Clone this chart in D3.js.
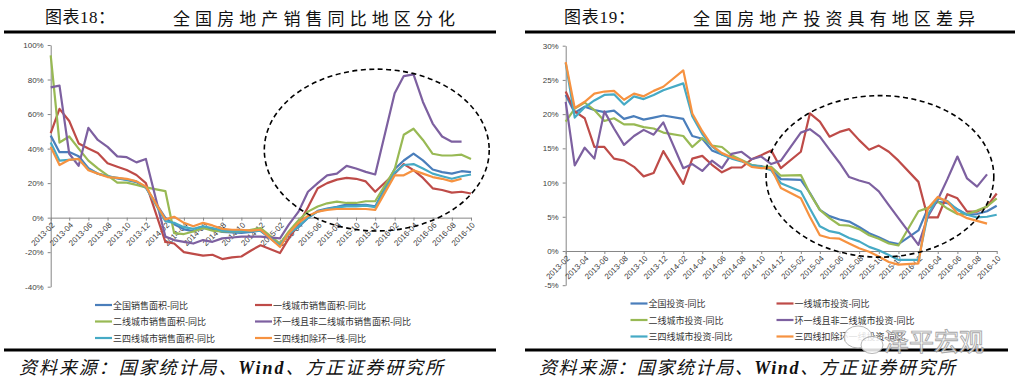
<!DOCTYPE html>
<html>
<head>
<meta charset="utf-8">
<script src="https://cdn.jsdelivr.net/npm/d3@7"></script>
<style>
  body { margin: 0; background: #fff; }
  svg { display: block; }
</style>
</head>
<body>
<div id="chart"></div>
<script>
// months with data (January is folded into February in the source, so it is missing)
const months = [
  "2013-02","2013-03","2013-04","2013-05","2013-06","2013-07","2013-08","2013-09","2013-10","2013-11","2013-12",
  "2014-02","2014-03","2014-04","2014-05","2014-06","2014-07","2014-08","2014-09","2014-10","2014-11","2014-12",
  "2015-02","2015-03","2015-04","2015-05","2015-06","2015-07","2015-08","2015-09","2015-10","2015-11","2015-12",
  "2016-02","2016-03","2016-04","2016-05","2016-06","2016-07","2016-08","2016-09","2016-10"
]
const tickLabels = [
  "2013-02","2013-04","2013-06","2013-08","2013-10","2013-12","2014-02","2014-04","2014-06","2014-08","2014-10","2014-12",
  "2015-02","2015-04","2015-06","2015-08","2015-10","2015-12","2016-02","2016-04","2016-06","2016-08","2016-10"
]

// 图表18 sales area yoy (%)
const salesNames = ["全国销售面积-同比","一线城市销售面积-同比","二线城市销售面积-同比","环一线且非二线城市销售面积-同比","三四线城市销售面积-同比","三四线扣除环一线-同比"]
const salesNational = [47.5,37.9,38.0,35.6,28.7,25.4,24.1,22.7,21.8,20.6,17.3, -0.1,-3.8,-6.8,-7.8,-6.0,-6.7,-8.3,-8.6,-8.9,-8.2,-7.6, -16.3,-9.2,-5.4,-0.2,3.9,5.2,6.2,7.5,7.2,7.4,6.5, 28.2,33.1,37.1,33.2,27.9,26.4,25.5,26.9,26.4]
const salesTier1    = [49,63,56,43,40,37.5,31.5,29.5,27.6,24.7,20, -14,-15,-20,-21,-22,-21.5,-24,-23,-22.5,-19,-16, -20.5,-12,-4,6,17,20,22,23,22.5,21,15, 25.5,31,27.5,23,17,16,14.5,15,14]
const salesTier2    = [94,43.5,47,40,33,28.5,24.5,20.3,20.3,19,17.5, 15.4,-9,-9.5,-8,-6,-7.5,-8,-8,-8,-7,-6, -15,-8,-1.5,3.5,6.5,8.3,9.3,8.5,8.5,9.5,9.5, 28,48,51.5,45,37,36,36,36.5,34]
const salesRing     = [75.5,76.5,37,30,52,45,41,35.5,35,32,34, -11,-13,-14,-15,-13,-14,-12,-11.5,-11,-11,-11, -12,-4,3.5,15,20,24.5,25.5,30,28.5,26.5,25, 72,82,83,67,54.5,47,44,44,null]
const salesTier34   = [43.5,33,33.5,34,28,25.5,24,23,22,21,17.5, -2,-3,-5.5,-6.5,-5,-6,-7.5,-8,-8,-8,-7.5, -16,-9.5,-5,0,3.5,5,6,6.5,6.5,7,6, 26,30.5,31,28.5,25.5,24,22.5,24,25]
const salesTier34ex = [41,30.5,33.5,34,27.5,25.5,23.5,23,22.5,21,18, -1,0.5,-3,-5,-3,-4.5,-6.5,-7,-7,-7.5,-7, -17,-9,-3,1,3.5,4.5,5,5,5,5,4.5, 24.5,24.5,27.5,25.5,23.5,22.5,21,22.5,null]
const salesTicks = [-40,-20,0,20,40,60,80,100]

// 图表19 investment yoy (%)
const invNames = ["全国投资-同比","一线城市投资-同比","二线城市投资-同比","环一线且非二线城市投资-同比","三四线城市投资-同比","三四线扣除环一线投资-同比"]
const invNational = [22.8,20.2,21.1,20.6,20.3,20.5,19.3,19.7,19.2,19.5,19.8, 19.3,16.8,16.4,14.7,14.1,13.7,13.2,12.5,12.4,11.9,10.5, 10.4,8.5,6.0,5.1,4.6,4.3,3.5,2.6,2.0,1.3,1.0, 3.0,6.2,7.2,7.0,6.1,5.3,5.4,5.8,6.6]
const invTier1    = [23.3,20.4,19.4,15.2,15.2,13.5,13.2,12.3,10.9,11.4,14.6, 9.8,13.5,13.9,12.6,11.5,12.2,12.2,13.4,14.0,14.7,12.1, 14.5,20.1,18.9,16.7,17.4,17.8,16.2,14.8,15.4,14.5,13.2, 10.1,4.9,4.9,8.3,7.7,5.75,5.75,6.5,8.4]
const invTier2    = [18.9,20.8,21.7,20.6,19.0,19.4,18.5,18.5,18.1,17.9,17.3, 16.8,15.2,16.5,15.4,15.2,14.0,13.3,12.6,12.3,12.3,11.0, 11.1,8.4,6.0,4.8,3.8,3.7,3.2,2.3,1.8,1.1,0.8, 5.8,6.3,7.2,6.2,5.4,5.4,5.9,6.5,7.7]
const invRing     = [21.8,12.5,15.1,13.5,20.4,17.9,15.5,16.8,17.7,17.0,18.8, 12.1,12.7,11.7,13.2,12.1,14.2,14.5,13.4,13.8,12.7,13.2, 17.3,17.8,16.7,14.8,12.9,10.8,10.3,9.9,8.7,6.7,4.8, 0.9,5.0,7.5,10.5,13.8,10.6,9.4,11.2,null]
const invTier34   = [27.5,19.5,21.0,22.0,22.8,22.9,21.4,22.6,22.2,22.8,23.5, 24.5,19.7,17.1,15.3,14.1,13.5,13.1,12.5,12.3,11.8,9.9, 8.7,6.2,3.6,2.9,2.6,1.9,1.4,0.6,0.1,-0.6,-1.3, -1.3,5.3,7.7,7.3,6.0,5.3,4.9,5.0,5.3]
const invTier34ex = [27.6,20.9,21.8,23.0,23.3,23.4,22.1,23.0,22.6,23.4,24.0, 26.4,20.1,17.5,15.4,14.3,13.7,13.2,12.3,12.1,12.1,9.2, 7.7,5.0,2.3,1.9,1.8,1.1,0.4,-0.1,-0.8,-1.6,-2.0, -1.8,6.2,7.9,7.2,5.5,4.8,4.4,4.0,null]
const invTicks = [-5,0,5,10,15,20,25,30]

const colors = ["#4A7EBB","#BE4B48","#98B954","#7D60A0","#46AAC5","#F69240"]

const W = 1017, H = 384
const parse = d3.utcParse("%Y-%m")
const fmtMonth = d3.utcFormat("%Y-%m")

const svg = d3.select("#chart").append("svg")
  .attr("width", W).attr("height", H)
  .attr("viewBox", `0 0 ${W} ${H}`)
svg.append("rect").attr("width", W).attr("height", H).attr("fill", "#fff")

const panels = [
  {
    label: "图表18：", title: "全国房地产销售同比地区分化",
    labelX: 45, labelW: 70, titleX: 173, titleW: 282,
    ruleTop: [4, 496], ruleBottom: [4, 496], sourceX: 19, sourceW: 424,
    xRange: [50.7, 471], yDomain: [-40, 100], yRange: [286.7, 45], yTicks: salesTicks,
    names: salesNames,
    values: [salesNational, salesTier1, salesTier2, salesRing, salesTier34, salesTier34ex],
    legendX: [95, 255], legendY: [305, 321.5, 338],
    ellipse: {from: "2014-12-13", to: "2016-11-28", top: 86, bottom: -7.7}
  },
  {
    label: "图表19：", title: "全国房地产投资具有地区差异",
    labelX: 564, labelW: 71, titleX: 693, titleW: 282,
    ruleTop: [525, 1015], ruleBottom: [525, 1008], sourceX: 539, sourceW: 416,
    xRange: [565.7, 996.7], yDomain: [-5, 30], yRange: [285.2, 45.7], yTicks: invTicks,
    names: invNames,
    values: [invNational, invTier1, invTier2, invRing, invTier34, invTier34ex],
    legendX: [630.5, 776.5], legendY: [303.5, 320, 336.5],
    ellipse: {from: "2014-10-16", to: "2016-09-22", top: 22.7, bottom: -0.9},
    watermark: true
  }
]

const cjk = "'Noto Sans CJK SC', sans-serif"

panels.forEach(p => {
  const g = svg.append("g")

  // header
  g.append("text").attr("x", p.labelX).attr("y", 17)
    .attr("dominant-baseline", "central")
    .attr("textLength", p.labelW).attr("lengthAdjust", "spacing")
    .style("font-family", "'Liberation Serif', " + cjk).style("font-size", "17px").attr("fill", "#111")
    .text(p.label)
  g.append("text").attr("x", p.titleX).attr("y", 17)
    .attr("dominant-baseline", "central")
    .attr("textLength", p.titleW).attr("lengthAdjust", "spacing")
    .style("font-family", cjk).style("font-size", "17px").attr("fill", "#111")
    .text(p.title)
  g.append("line").attr("x1", p.ruleTop[0]).attr("x2", p.ruleTop[1]).attr("y1", 32).attr("y2", 32)
    .attr("stroke", "#000").attr("stroke-width", 3)
  g.append("line").attr("x1", p.ruleBottom[0]).attr("x2", p.ruleBottom[1]).attr("y1", 350).attr("y2", 350)
    .attr("stroke", "#000").attr("stroke-width", 3)
  g.append("text").attr("x", p.sourceX).attr("y", 368)
    .attr("dominant-baseline", "central")
    .attr("textLength", p.sourceW).attr("lengthAdjust", "spacing")
    .style("font-family", "'Liberation Serif', " + cjk).style("font-size", "18px").style("font-style", "italic")
    .attr("fill", "#111")
    .html("资料来源：国家统计局、<tspan font-weight='bold'>Wind</tspan>、方正证券研究所")

  // scales
  const x = d3.scaleUtc().domain([parse(months[0]), parse(months[months.length - 1])]).range(p.xRange)
  const y = d3.scaleLinear().domain(p.yDomain).range(p.yRange)

  // y axis
  const ya = g.append("g").attr("transform", `translate(${p.xRange[0]},0)`)
    .call(d3.axisLeft(y).tickValues(p.yTicks).tickFormat(d => d + "%").tickSize(3).tickSizeOuter(0))
  ya.select(".domain").attr("stroke", "#868686")
  ya.selectAll(".tick line").attr("stroke", "#868686")
  ya.selectAll("text").attr("x", -7).attr("fill", "#404040")
    .style("font-family", "'Liberation Sans', Arial, sans-serif").style("font-size", "8px")

  // x axis at 0%
  const xa = g.append("g").attr("transform", `translate(0,${y(0)})`)
    .call(d3.axisBottom(x).tickValues(tickLabels.map(parse)).tickFormat(fmtMonth).tickSize(3).tickSizeOuter(0))
  xa.select(".domain").attr("stroke", "#868686")
  xa.selectAll(".tick line").attr("stroke", "#868686")
  xa.selectAll("text")
    .attr("x", 0).attr("y", 0).attr("dy", "0.35em")
    .attr("text-anchor", "end")
    .attr("transform", "translate(2,6) rotate(-45)")
    .attr("fill", "#404040")
    .style("font-family", "'Liberation Sans', Arial, sans-serif").style("font-size", "8px")

  // lines
  const line = d3.line()
    .defined(d => d.v !== null)
    .x(d => x(parse(d.m)))
    .y(d => y(d.v))
  p.values.forEach((vals, k) => {
    g.append("path")
      .datum(months.map((m, i) => ({m: m, v: vals[i]})))
      .attr("fill", "none")
      .attr("stroke", colors[k])
      .attr("stroke-width", 2.2)
      .attr("stroke-linejoin", "round")
      .attr("d", line)
  })

  // dashed ellipse
  const e = p.ellipse
  const ex0 = x(d3.utcParse("%Y-%m-%d")(e.from)), ex1 = x(d3.utcParse("%Y-%m-%d")(e.to))
  g.append("ellipse")
    .attr("cx", (ex0 + ex1) / 2).attr("cy", (y(e.top) + y(e.bottom)) / 2)
    .attr("rx", (ex1 - ex0) / 2).attr("ry", (y(e.bottom) - y(e.top)) / 2)
    .attr("fill", "none").attr("stroke", "#000").attr("stroke-width", 1.6)
    .attr("stroke-dasharray", "5,3.5")

  // legend
  p.names.forEach((name, k) => {
    const lx = p.legendX[k % 2], ly = p.legendY[Math.floor(k / 2)]
    g.append("line").attr("x1", lx).attr("x2", lx + 17).attr("y1", ly).attr("y2", ly)
      .attr("stroke", colors[k]).attr("stroke-width", 2.2)
    g.append("text").attr("x", lx + 18).attr("y", ly)
      .attr("dominant-baseline", "central")
      .attr("fill", "#333")
      .style("font-family", cjk).style("font-size", "9px")
      .text(name)
  })

  // watermark
  if (p.watermark) {
    const wm = g.append("g").attr("opacity", 0.85)
    wm.append("ellipse").attr("cx", 858).attr("cy", 337).attr("rx", 14).attr("ry", 11)
      .attr("fill", "#fff").attr("stroke", "#aaa").attr("stroke-width", 1)
    wm.append("ellipse").attr("cx", 872).attr("cy", 345).attr("rx", 11).attr("ry", 8.5)
      .attr("fill", "#fff").attr("stroke", "#aaa").attr("stroke-width", 1)
    wm.append("text").attr("x", 884).attr("y", 340)
      .attr("dominant-baseline", "central")
      .attr("textLength", 100).attr("lengthAdjust", "spacing")
      .attr("fill", "#fff").attr("stroke", "#999").attr("stroke-width", 0.9)
      .style("font-family", cjk).style("font-size", "25px")
      .text("泽平宏观")
  }
})
</script>
</body>
</html>
